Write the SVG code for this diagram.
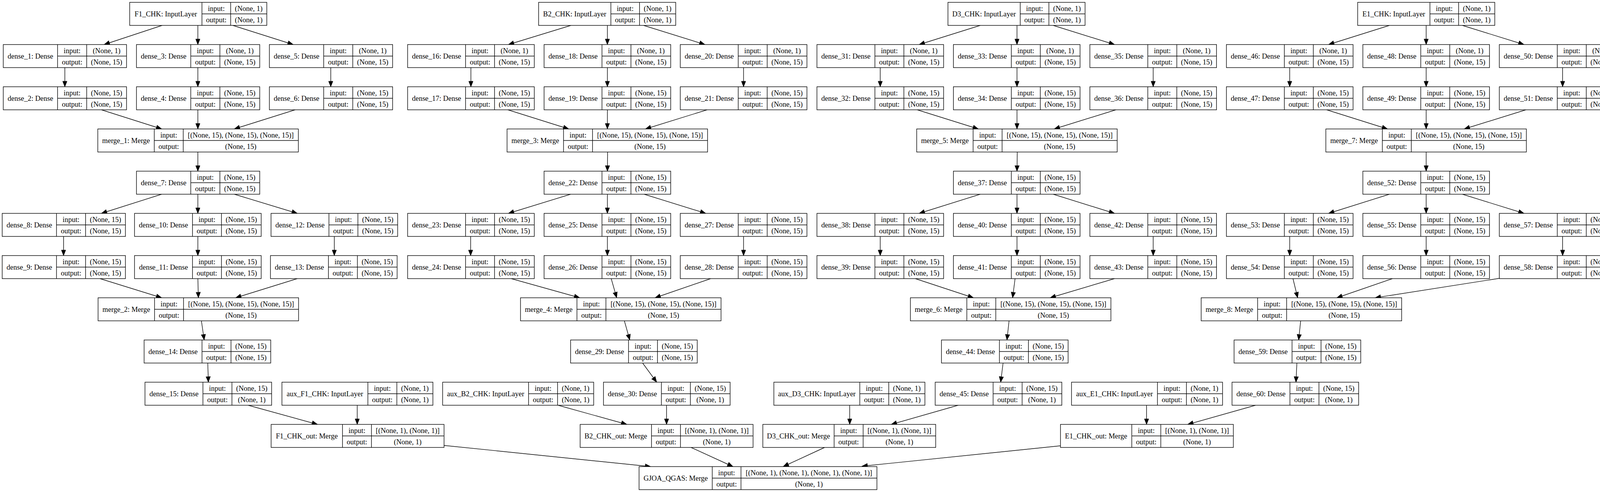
<svg xmlns="http://www.w3.org/2000/svg" xmlns:xlink="http://www.w3.org/1999/xlink" width="4168" height="1259" viewBox="0 0 4168 1259">
<style>
.n text{font-family:"Liberation Serif","Times New Roman",Times,serif;font-size:18.5px;text-anchor:middle;fill:#000}
#edges path{fill:none;stroke:#000;stroke-width:1.4;marker-end:url(#ah)}
</style>
<defs>
<marker id="ah" markerUnits="userSpaceOnUse" markerWidth="14" markerHeight="11" refX="14" refY="5.5" orient="auto" overflow="visible"><path d="M0,0L14,5.5L0,11z" fill="#000" stroke="#000" stroke-width="1"/></marker>
<g id="fIn" fill="#fff" stroke="#000" stroke-width="1.4"><rect width="351" height="59"/><path fill="none" d="M185,0V59M258.5,0V59M185,29.5H351"/></g>
<g id="fD1" fill="#fff" stroke="#000" stroke-width="1.4"><rect width="315.5" height="59"/><path fill="none" d="M139,0V59M213.5,0V59M139,29.5H315.5"/></g>
<g id="fD2" fill="#fff" stroke="#000" stroke-width="1.4"><rect width="324.2" height="59"/><path fill="none" d="M148.3,0V59M222.5,0V59M148.3,29.5H324.2"/></g>
<g id="fM" fill="#fff" stroke="#000" stroke-width="1.4"><rect width="513.3" height="59"/><path fill="none" d="M144.5,0V59M218.7,0V59M144.5,29.5H513.3"/></g>
<g id="fAux" fill="#fff" stroke="#000" stroke-width="1.4"><rect width="386.6" height="59"/><path fill="none" d="M220,0V59M294.2,0V59M220,29.5H386.6"/></g>
<g id="fO" fill="#fff" stroke="#000" stroke-width="1.4"><rect width="442.6" height="59"/><path fill="none" d="M182.6,0V59M256.8,0V59M182.6,29.5H442.6"/></g>
<g id="fG" fill="#fff" stroke="#000" stroke-width="1.4"><rect width="608.9" height="59"/><path fill="none" d="M187.4,0V59M260.9,0V59M187.4,29.5H608.9"/></g>
</defs>
<rect width="4168" height="1259" fill="#fff"/>

<g id="edges">
<path d="M415,65L266.6,114"/><path d="M506.5,65L506.5,114"/><path d="M596,65L750.6,114"/>
<path d="M166,173L166,222"/><path d="M506.5,173L506.5,222"/><path d="M846.7,173L846.7,222"/>
<path d="M259.6,281L414,330"/><path d="M506.5,281L506.5,330"/><path d="M755.5,281L599.8,330"/>
<path d="M506.5,389L506.5,438"/>
<path d="M413.9,497L259.6,546"/><path d="M506.5,497L506.5,546"/><path d="M599.8,497L761.1,546"/>
<path d="M162.7,605L162.7,654"/><path d="M506.5,605L506.5,654"/><path d="M855.8,605L855.8,654"/>
<path d="M256,713L413.9,762"/><path d="M506.5,713L507.9,762"/><path d="M761,713L603.3,762"/>
<path d="M515.6,821L522.7,870"/><path d="M531.9,929L533.4,978"/>
<path d="M635.2,1037L812.7,1086"/><path d="M914.5,1037L914.5,1086"/>
<path d="M1135.7,1139.7L1665.8,1194"/>

<path d="M1461.6,65L1301.6,114"/><path d="M1554.9,65L1554.9,114"/><path d="M1647.5,65L1804.6,114"/>
<path d="M1205.5,173L1205.5,222"/><path d="M1554.9,173L1554.9,222"/><path d="M1903.5,173L1903.5,222"/>
<path d="M1300.2,281L1456,330"/><path d="M1554.9,281L1554.9,330"/><path d="M1810.2,281L1652.4,330"/>
<path d="M1555.5,389L1555,438"/>
<path d="M1460.9,497L1301.6,546"/><path d="M1554.9,497L1554.9,546"/><path d="M1648.9,497L1806.7,546"/>
<path d="M1204.8,605L1204.8,654"/><path d="M1554.9,605L1554.9,654"/><path d="M1903.5,605L1903.5,654"/>
<path d="M1308.7,713L1484,762"/><path d="M1564.7,713L1578.7,762"/><path d="M1819.4,713L1677,762"/>
<path d="M1598.4,821L1612.2,870"/><path d="M1645.1,929L1681.1,978"/>
<path d="M1428.6,1037L1604.6,1086"/><path d="M1706.4,1037L1706.4,1086"/>
<path d="M1769.1,1145L1876.3,1194"/>

<path d="M2509.5,65L2353.1,114"/><path d="M2603.5,65L2603.5,114"/><path d="M2696.1,65L2853.2,114"/>
<path d="M2253.4,173L2253.4,222"/><path d="M2603.5,173L2603.5,222"/><path d="M2952.2,173L2952.2,222"/>
<path d="M2348.1,281L2504.6,330"/><path d="M2603.5,281L2603.5,330"/><path d="M2856.7,281L2698.9,330"/>
<path d="M2604.2,389L2603.5,438"/>
<path d="M2509.5,497L2353.1,546"/><path d="M2603.5,497L2603.5,546"/><path d="M2696.1,497L2853.2,546"/>
<path d="M2253.4,605L2253.4,654"/><path d="M2603.5,605L2603.5,654"/><path d="M2952.2,605L2952.2,654"/>
<path d="M2343.2,713L2492,762"/><path d="M2598.6,713L2592.3,762"/><path d="M2853.2,713L2688.4,762"/>
<path d="M2583.2,821L2577.8,870"/><path d="M2567.9,929L2561.7,978"/>
<path d="M2175.3,1037L2175.3,1086"/><path d="M2453,1037L2281.6,1086"/>
<path d="M2111,1145L2005,1194"/>

<path d="M3557,65L3401.2,114"/><path d="M3651,65L3651,114"/><path d="M3743.6,65L3901.4,114"/>
<path d="M3301.6,173L3301.6,222"/><path d="M3651,173L3651,222"/><path d="M4000.3,173L4000.3,222"/>
<path d="M3396.3,281L3552,330"/><path d="M3651,281L3651,330"/><path d="M3906.3,281L3748.5,330"/>
<path d="M3651,389L3651,438"/>
<path d="M3557,497L3401.2,546"/><path d="M3651,497L3651,546"/><path d="M3743.6,497L3901.4,546"/>
<path d="M3301.6,605L3301.6,654"/><path d="M3651,605L3651,654"/><path d="M4000.3,605L4000.3,654"/>
<path d="M3310,713L3322,762"/><path d="M3564.7,713L3422.3,762"/><path d="M3838.3,712.3L3520.5,762"/>
<path d="M3329.7,821L3324.6,870"/><path d="M3320,929L3317.7,978"/>
<path d="M2935.2,1037L2935.2,1086"/><path d="M3214.4,1037L3040.7,1086"/>
<path d="M2714.8,1140.7L2206.6,1193"/>
</g>

<g id="F1_CHK" class="n" transform="translate(332,6)"><use xlink:href="#fIn"/><text x="92.5" y="36">F1_CHK: InputLayer</text><text x="221.75" y="21.5">input:</text><text x="221.75" y="51">output:</text><text x="304.75" y="21.5">(None, 1)</text><text x="304.75" y="51">(None, 1)</text></g>
<g id="dense_1" class="n" transform="translate(8.4,114)"><use xlink:href="#fD1"/><text x="69.5" y="36">dense_1: Dense</text><text x="176.25" y="21.5">input:</text><text x="176.25" y="51">output:</text><text x="264.5" y="21.5">(None, 1)</text><text x="264.5" y="51">(None, 15)</text></g>
<g id="dense_3" class="n" transform="translate(349.4,114)"><use xlink:href="#fD1"/><text x="69.5" y="36">dense_3: Dense</text><text x="176.25" y="21.5">input:</text><text x="176.25" y="51">output:</text><text x="264.5" y="21.5">(None, 1)</text><text x="264.5" y="51">(None, 15)</text></g>
<g id="dense_5" class="n" transform="translate(689.6,114)"><use xlink:href="#fD1"/><text x="69.5" y="36">dense_5: Dense</text><text x="176.25" y="21.5">input:</text><text x="176.25" y="51">output:</text><text x="264.5" y="21.5">(None, 1)</text><text x="264.5" y="51">(None, 15)</text></g>
<g id="dense_2" class="n" transform="translate(8.4,222)"><use xlink:href="#fD1"/><text x="69.5" y="36">dense_2: Dense</text><text x="176.25" y="21.5">input:</text><text x="176.25" y="51">output:</text><text x="264.5" y="21.5">(None, 15)</text><text x="264.5" y="51">(None, 15)</text></g>
<g id="dense_4" class="n" transform="translate(349.4,222)"><use xlink:href="#fD1"/><text x="69.5" y="36">dense_4: Dense</text><text x="176.25" y="21.5">input:</text><text x="176.25" y="51">output:</text><text x="264.5" y="21.5">(None, 15)</text><text x="264.5" y="51">(None, 15)</text></g>
<g id="dense_6" class="n" transform="translate(689.6,222)"><use xlink:href="#fD1"/><text x="69.5" y="36">dense_6: Dense</text><text x="176.25" y="21.5">input:</text><text x="176.25" y="51">output:</text><text x="264.5" y="21.5">(None, 15)</text><text x="264.5" y="51">(None, 15)</text></g>
<g id="merge_1" class="n" transform="translate(250.4,330)"><use xlink:href="#fM"/><text x="72.25" y="36">merge_1: Merge</text><text x="181.6" y="21.5">input:</text><text x="181.6" y="51">output:</text><text x="366" y="21.5">[(None, 15), (None, 15), (None, 15)]</text><text x="366" y="51">(None, 15)</text></g>
<g id="dense_7" class="n" transform="translate(349.4,438)"><use xlink:href="#fD1"/><text x="69.5" y="36">dense_7: Dense</text><text x="176.25" y="21.5">input:</text><text x="176.25" y="51">output:</text><text x="264.5" y="21.5">(None, 15)</text><text x="264.5" y="51">(None, 15)</text></g>
<g id="dense_8" class="n" transform="translate(5.6,546)"><use xlink:href="#fD1"/><text x="69.5" y="36">dense_8: Dense</text><text x="176.25" y="21.5">input:</text><text x="176.25" y="51">output:</text><text x="264.5" y="21.5">(None, 15)</text><text x="264.5" y="51">(None, 15)</text></g>
<g id="dense_10" class="n" transform="translate(344.4,546)"><use xlink:href="#fD2"/><text x="74.15" y="36">dense_10: Dense</text><text x="185.4" y="21.5">input:</text><text x="185.4" y="51">output:</text><text x="273.35" y="21.5">(None, 15)</text><text x="273.35" y="51">(None, 15)</text></g>
<g id="dense_12" class="n" transform="translate(693.8,546)"><use xlink:href="#fD2"/><text x="74.15" y="36">dense_12: Dense</text><text x="185.4" y="21.5">input:</text><text x="185.4" y="51">output:</text><text x="273.35" y="21.5">(None, 15)</text><text x="273.35" y="51">(None, 15)</text></g>
<g id="dense_9" class="n" transform="translate(5.6,654)"><use xlink:href="#fD1"/><text x="69.5" y="36">dense_9: Dense</text><text x="176.25" y="21.5">input:</text><text x="176.25" y="51">output:</text><text x="264.5" y="21.5">(None, 15)</text><text x="264.5" y="51">(None, 15)</text></g>
<g id="dense_11" class="n" transform="translate(344.4,654)"><use xlink:href="#fD2"/><text x="74.15" y="36">dense_11: Dense</text><text x="185.4" y="21.5">input:</text><text x="185.4" y="51">output:</text><text x="273.35" y="21.5">(None, 15)</text><text x="273.35" y="51">(None, 15)</text></g>
<g id="dense_13" class="n" transform="translate(692.4,654)"><use xlink:href="#fD2"/><text x="74.15" y="36">dense_13: Dense</text><text x="185.4" y="21.5">input:</text><text x="185.4" y="51">output:</text><text x="273.35" y="21.5">(None, 15)</text><text x="273.35" y="51">(None, 15)</text></g>
<g id="merge_2" class="n" transform="translate(251.1,762)"><use xlink:href="#fM"/><text x="72.25" y="36">merge_2: Merge</text><text x="181.6" y="21.5">input:</text><text x="181.6" y="51">output:</text><text x="366" y="21.5">[(None, 15), (None, 15), (None, 15)]</text><text x="366" y="51">(None, 15)</text></g>
<g id="dense_14" class="n" transform="translate(368.9,870)"><use xlink:href="#fD2"/><text x="74.15" y="36">dense_14: Dense</text><text x="185.4" y="21.5">input:</text><text x="185.4" y="51">output:</text><text x="273.35" y="21.5">(None, 15)</text><text x="273.35" y="51">(None, 15)</text></g>
<g id="dense_15" class="n" transform="translate(371.2,978)"><use xlink:href="#fD2"/><text x="74.15" y="36">dense_15: Dense</text><text x="185.4" y="21.5">input:</text><text x="185.4" y="51">output:</text><text x="273.35" y="21.5">(None, 15)</text><text x="273.35" y="51">(None, 1)</text></g>
<g id="aux_F1_CHK" class="n" transform="translate(721.7,978)"><use xlink:href="#fAux"/><text x="110" y="36">aux_F1_CHK: InputLayer</text><text x="257.1" y="21.5">input:</text><text x="257.1" y="51">output:</text><text x="340.4" y="21.5">(None, 1)</text><text x="340.4" y="51">(None, 1)</text></g>
<g id="F1_CHK_out" class="n" transform="translate(694.1,1086)"><use xlink:href="#fO"/><text x="91.3" y="36">F1_CHK_out: Merge</text><text x="219.7" y="21.5">input:</text><text x="219.7" y="51">output:</text><text x="349.7" y="21.5">[(None, 1), (None, 1)]</text><text x="349.7" y="51">(None, 1)</text></g>

<g id="B2_CHK" class="n" transform="translate(1378.8,6)"><use xlink:href="#fIn"/><text x="92.5" y="36">B2_CHK: InputLayer</text><text x="221.75" y="21.5">input:</text><text x="221.75" y="51">output:</text><text x="304.75" y="21.5">(None, 1)</text><text x="304.75" y="51">(None, 1)</text></g>
<g id="dense_16" class="n" transform="translate(1043.5,114)"><use xlink:href="#fD2"/><text x="74.15" y="36">dense_16: Dense</text><text x="185.4" y="21.5">input:</text><text x="185.4" y="51">output:</text><text x="273.35" y="21.5">(None, 1)</text><text x="273.35" y="51">(None, 15)</text></g>
<g id="dense_18" class="n" transform="translate(1392.8,114)"><use xlink:href="#fD2"/><text x="74.15" y="36">dense_18: Dense</text><text x="185.4" y="21.5">input:</text><text x="185.4" y="51">output:</text><text x="273.35" y="21.5">(None, 1)</text><text x="273.35" y="51">(None, 15)</text></g>
<g id="dense_20" class="n" transform="translate(1741.5,114)"><use xlink:href="#fD2"/><text x="74.15" y="36">dense_20: Dense</text><text x="185.4" y="21.5">input:</text><text x="185.4" y="51">output:</text><text x="273.35" y="21.5">(None, 1)</text><text x="273.35" y="51">(None, 15)</text></g>
<g id="dense_17" class="n" transform="translate(1043.5,222)"><use xlink:href="#fD2"/><text x="74.15" y="36">dense_17: Dense</text><text x="185.4" y="21.5">input:</text><text x="185.4" y="51">output:</text><text x="273.35" y="21.5">(None, 15)</text><text x="273.35" y="51">(None, 15)</text></g>
<g id="dense_19" class="n" transform="translate(1392.8,222)"><use xlink:href="#fD2"/><text x="74.15" y="36">dense_19: Dense</text><text x="185.4" y="21.5">input:</text><text x="185.4" y="51">output:</text><text x="273.35" y="21.5">(None, 15)</text><text x="273.35" y="51">(None, 15)</text></g>
<g id="dense_21" class="n" transform="translate(1741.5,222)"><use xlink:href="#fD2"/><text x="74.15" y="36">dense_21: Dense</text><text x="185.4" y="21.5">input:</text><text x="185.4" y="51">output:</text><text x="273.35" y="21.5">(None, 15)</text><text x="273.35" y="51">(None, 15)</text></g>
<g id="merge_3" class="n" transform="translate(1298.1,330)"><use xlink:href="#fM"/><text x="72.25" y="36">merge_3: Merge</text><text x="181.6" y="21.5">input:</text><text x="181.6" y="51">output:</text><text x="366" y="21.5">[(None, 15), (None, 15), (None, 15)]</text><text x="366" y="51">(None, 15)</text></g>
<g id="dense_22" class="n" transform="translate(1392.8,438)"><use xlink:href="#fD2"/><text x="74.15" y="36">dense_22: Dense</text><text x="185.4" y="21.5">input:</text><text x="185.4" y="51">output:</text><text x="273.35" y="21.5">(None, 15)</text><text x="273.35" y="51">(None, 15)</text></g>
<g id="dense_23" class="n" transform="translate(1043.5,546)"><use xlink:href="#fD2"/><text x="74.15" y="36">dense_23: Dense</text><text x="185.4" y="21.5">input:</text><text x="185.4" y="51">output:</text><text x="273.35" y="21.5">(None, 15)</text><text x="273.35" y="51">(None, 15)</text></g>
<g id="dense_25" class="n" transform="translate(1392.8,546)"><use xlink:href="#fD2"/><text x="74.15" y="36">dense_25: Dense</text><text x="185.4" y="21.5">input:</text><text x="185.4" y="51">output:</text><text x="273.35" y="21.5">(None, 15)</text><text x="273.35" y="51">(None, 15)</text></g>
<g id="dense_27" class="n" transform="translate(1741.5,546)"><use xlink:href="#fD2"/><text x="74.15" y="36">dense_27: Dense</text><text x="185.4" y="21.5">input:</text><text x="185.4" y="51">output:</text><text x="273.35" y="21.5">(None, 15)</text><text x="273.35" y="51">(None, 15)</text></g>
<g id="dense_24" class="n" transform="translate(1043.5,654)"><use xlink:href="#fD2"/><text x="74.15" y="36">dense_24: Dense</text><text x="185.4" y="21.5">input:</text><text x="185.4" y="51">output:</text><text x="273.35" y="21.5">(None, 15)</text><text x="273.35" y="51">(None, 15)</text></g>
<g id="dense_26" class="n" transform="translate(1392.8,654)"><use xlink:href="#fD2"/><text x="74.15" y="36">dense_26: Dense</text><text x="185.4" y="21.5">input:</text><text x="185.4" y="51">output:</text><text x="273.35" y="21.5">(None, 15)</text><text x="273.35" y="51">(None, 15)</text></g>
<g id="dense_28" class="n" transform="translate(1741.5,654)"><use xlink:href="#fD2"/><text x="74.15" y="36">dense_28: Dense</text><text x="185.4" y="21.5">input:</text><text x="185.4" y="51">output:</text><text x="273.35" y="21.5">(None, 15)</text><text x="273.35" y="51">(None, 15)</text></g>
<g id="merge_4" class="n" transform="translate(1332.5,762)"><use xlink:href="#fM"/><text x="72.25" y="36">merge_4: Merge</text><text x="181.6" y="21.5">input:</text><text x="181.6" y="51">output:</text><text x="366" y="21.5">[(None, 15), (None, 15), (None, 15)]</text><text x="366" y="51">(None, 15)</text></g>
<g id="dense_29" class="n" transform="translate(1460.7,870)"><use xlink:href="#fD2"/><text x="74.15" y="36">dense_29: Dense</text><text x="185.4" y="21.5">input:</text><text x="185.4" y="51">output:</text><text x="273.35" y="21.5">(None, 15)</text><text x="273.35" y="51">(None, 15)</text></g>
<g id="dense_30" class="n" transform="translate(1544.9,978)"><use xlink:href="#fD2"/><text x="74.15" y="36">dense_30: Dense</text><text x="185.4" y="21.5">input:</text><text x="185.4" y="51">output:</text><text x="273.35" y="21.5">(None, 15)</text><text x="273.35" y="51">(None, 1)</text></g>
<g id="aux_B2_CHK" class="n" transform="translate(1133.2,978)"><use xlink:href="#fAux"/><text x="110" y="36">aux_B2_CHK: InputLayer</text><text x="257.1" y="21.5">input:</text><text x="257.1" y="51">output:</text><text x="340.4" y="21.5">(None, 1)</text><text x="340.4" y="51">(None, 1)</text></g>
<g id="B2_CHK_out" class="n" transform="translate(1485.2,1086)"><use xlink:href="#fO"/><text x="91.3" y="36">B2_CHK_out: Merge</text><text x="219.7" y="21.5">input:</text><text x="219.7" y="51">output:</text><text x="349.7" y="21.5">[(None, 1), (None, 1)]</text><text x="349.7" y="51">(None, 1)</text></g>

<g id="D3_CHK" class="n" transform="translate(2426.7,6)"><use xlink:href="#fIn"/><text x="92.5" y="36">D3_CHK: InputLayer</text><text x="221.75" y="21.5">input:</text><text x="221.75" y="51">output:</text><text x="304.75" y="21.5">(None, 1)</text><text x="304.75" y="51">(None, 1)</text></g>
<g id="dense_31" class="n" transform="translate(2091.4,114)"><use xlink:href="#fD2"/><text x="74.15" y="36">dense_31: Dense</text><text x="185.4" y="21.5">input:</text><text x="185.4" y="51">output:</text><text x="273.35" y="21.5">(None, 1)</text><text x="273.35" y="51">(None, 15)</text></g>
<g id="dense_33" class="n" transform="translate(2440.7,114)"><use xlink:href="#fD2"/><text x="74.15" y="36">dense_33: Dense</text><text x="185.4" y="21.5">input:</text><text x="185.4" y="51">output:</text><text x="273.35" y="21.5">(None, 1)</text><text x="273.35" y="51">(None, 15)</text></g>
<g id="dense_35" class="n" transform="translate(2790.1,114)"><use xlink:href="#fD2"/><text x="74.15" y="36">dense_35: Dense</text><text x="185.4" y="21.5">input:</text><text x="185.4" y="51">output:</text><text x="273.35" y="21.5">(None, 1)</text><text x="273.35" y="51">(None, 15)</text></g>
<g id="dense_32" class="n" transform="translate(2091.4,222)"><use xlink:href="#fD2"/><text x="74.15" y="36">dense_32: Dense</text><text x="185.4" y="21.5">input:</text><text x="185.4" y="51">output:</text><text x="273.35" y="21.5">(None, 15)</text><text x="273.35" y="51">(None, 15)</text></g>
<g id="dense_34" class="n" transform="translate(2440.7,222)"><use xlink:href="#fD2"/><text x="74.15" y="36">dense_34: Dense</text><text x="185.4" y="21.5">input:</text><text x="185.4" y="51">output:</text><text x="273.35" y="21.5">(None, 15)</text><text x="273.35" y="51">(None, 15)</text></g>
<g id="dense_36" class="n" transform="translate(2790.1,222)"><use xlink:href="#fD2"/><text x="74.15" y="36">dense_36: Dense</text><text x="185.4" y="21.5">input:</text><text x="185.4" y="51">output:</text><text x="273.35" y="21.5">(None, 15)</text><text x="273.35" y="51">(None, 15)</text></g>
<g id="merge_5" class="n" transform="translate(2346.7,330)"><use xlink:href="#fM"/><text x="72.25" y="36">merge_5: Merge</text><text x="181.6" y="21.5">input:</text><text x="181.6" y="51">output:</text><text x="366" y="21.5">[(None, 15), (None, 15), (None, 15)]</text><text x="366" y="51">(None, 15)</text></g>
<g id="dense_37" class="n" transform="translate(2440.7,438)"><use xlink:href="#fD2"/><text x="74.15" y="36">dense_37: Dense</text><text x="185.4" y="21.5">input:</text><text x="185.4" y="51">output:</text><text x="273.35" y="21.5">(None, 15)</text><text x="273.35" y="51">(None, 15)</text></g>
<g id="dense_38" class="n" transform="translate(2091.4,546)"><use xlink:href="#fD2"/><text x="74.15" y="36">dense_38: Dense</text><text x="185.4" y="21.5">input:</text><text x="185.4" y="51">output:</text><text x="273.35" y="21.5">(None, 15)</text><text x="273.35" y="51">(None, 15)</text></g>
<g id="dense_40" class="n" transform="translate(2440.7,546)"><use xlink:href="#fD2"/><text x="74.15" y="36">dense_40: Dense</text><text x="185.4" y="21.5">input:</text><text x="185.4" y="51">output:</text><text x="273.35" y="21.5">(None, 15)</text><text x="273.35" y="51">(None, 15)</text></g>
<g id="dense_42" class="n" transform="translate(2790.1,546)"><use xlink:href="#fD2"/><text x="74.15" y="36">dense_42: Dense</text><text x="185.4" y="21.5">input:</text><text x="185.4" y="51">output:</text><text x="273.35" y="21.5">(None, 15)</text><text x="273.35" y="51">(None, 15)</text></g>
<g id="dense_39" class="n" transform="translate(2091.4,654)"><use xlink:href="#fD2"/><text x="74.15" y="36">dense_39: Dense</text><text x="185.4" y="21.5">input:</text><text x="185.4" y="51">output:</text><text x="273.35" y="21.5">(None, 15)</text><text x="273.35" y="51">(None, 15)</text></g>
<g id="dense_41" class="n" transform="translate(2440.7,654)"><use xlink:href="#fD2"/><text x="74.15" y="36">dense_41: Dense</text><text x="185.4" y="21.5">input:</text><text x="185.4" y="51">output:</text><text x="273.35" y="21.5">(None, 15)</text><text x="273.35" y="51">(None, 15)</text></g>
<g id="dense_43" class="n" transform="translate(2790.1,654)"><use xlink:href="#fD2"/><text x="74.15" y="36">dense_43: Dense</text><text x="185.4" y="21.5">input:</text><text x="185.4" y="51">output:</text><text x="273.35" y="21.5">(None, 15)</text><text x="273.35" y="51">(None, 15)</text></g>
<g id="merge_6" class="n" transform="translate(2330.6,762)"><use xlink:href="#fM"/><text x="72.25" y="36">merge_6: Merge</text><text x="181.6" y="21.5">input:</text><text x="181.6" y="51">output:</text><text x="366" y="21.5">[(None, 15), (None, 15), (None, 15)]</text><text x="366" y="51">(None, 15)</text></g>
<g id="dense_44" class="n" transform="translate(2410.2,870)"><use xlink:href="#fD2"/><text x="74.15" y="36">dense_44: Dense</text><text x="185.4" y="21.5">input:</text><text x="185.4" y="51">output:</text><text x="273.35" y="21.5">(None, 15)</text><text x="273.35" y="51">(None, 15)</text></g>
<g id="dense_45" class="n" transform="translate(2394.1,978)"><use xlink:href="#fD2"/><text x="74.15" y="36">dense_45: Dense</text><text x="185.4" y="21.5">input:</text><text x="185.4" y="51">output:</text><text x="273.35" y="21.5">(None, 15)</text><text x="273.35" y="51">(None, 1)</text></g>
<g id="aux_D3_CHK" class="n" transform="translate(1981.1,978)"><use xlink:href="#fAux"/><text x="110" y="36">aux_D3_CHK: InputLayer</text><text x="257.1" y="21.5">input:</text><text x="257.1" y="51">output:</text><text x="340.4" y="21.5">(None, 1)</text><text x="340.4" y="51">(None, 1)</text></g>
<g id="D3_CHK_out" class="n" transform="translate(1952.8,1086)"><use xlink:href="#fO"/><text x="91.3" y="36">D3_CHK_out: Merge</text><text x="219.7" y="21.5">input:</text><text x="219.7" y="51">output:</text><text x="349.7" y="21.5">[(None, 1), (None, 1)]</text><text x="349.7" y="51">(None, 1)</text></g>

<g id="E1_CHK" class="n" transform="translate(3475.6,6)"><use xlink:href="#fIn"/><text x="92.5" y="36">E1_CHK: InputLayer</text><text x="221.75" y="21.5">input:</text><text x="221.75" y="51">output:</text><text x="304.75" y="21.5">(None, 1)</text><text x="304.75" y="51">(None, 1)</text></g>
<g id="dense_46" class="n" transform="translate(3139.6,114)"><use xlink:href="#fD2"/><text x="74.15" y="36">dense_46: Dense</text><text x="185.4" y="21.5">input:</text><text x="185.4" y="51">output:</text><text x="273.35" y="21.5">(None, 1)</text><text x="273.35" y="51">(None, 15)</text></g>
<g id="dense_48" class="n" transform="translate(3488.9,114)"><use xlink:href="#fD2"/><text x="74.15" y="36">dense_48: Dense</text><text x="185.4" y="21.5">input:</text><text x="185.4" y="51">output:</text><text x="273.35" y="21.5">(None, 1)</text><text x="273.35" y="51">(None, 15)</text></g>
<g id="dense_50" class="n" transform="translate(3838.3,114)"><use xlink:href="#fD2"/><text x="74.15" y="36">dense_50: Dense</text><text x="185.4" y="21.5">input:</text><text x="185.4" y="51">output:</text><text x="273.35" y="21.5">(None, 1)</text><text x="273.35" y="51">(None, 15)</text></g>
<g id="dense_47" class="n" transform="translate(3139.6,222)"><use xlink:href="#fD2"/><text x="74.15" y="36">dense_47: Dense</text><text x="185.4" y="21.5">input:</text><text x="185.4" y="51">output:</text><text x="273.35" y="21.5">(None, 15)</text><text x="273.35" y="51">(None, 15)</text></g>
<g id="dense_49" class="n" transform="translate(3488.9,222)"><use xlink:href="#fD2"/><text x="74.15" y="36">dense_49: Dense</text><text x="185.4" y="21.5">input:</text><text x="185.4" y="51">output:</text><text x="273.35" y="21.5">(None, 15)</text><text x="273.35" y="51">(None, 15)</text></g>
<g id="dense_51" class="n" transform="translate(3838.3,222)"><use xlink:href="#fD2"/><text x="74.15" y="36">dense_51: Dense</text><text x="185.4" y="21.5">input:</text><text x="185.4" y="51">output:</text><text x="273.35" y="21.5">(None, 15)</text><text x="273.35" y="51">(None, 15)</text></g>
<g id="merge_7" class="n" transform="translate(3394.2,330)"><use xlink:href="#fM"/><text x="72.25" y="36">merge_7: Merge</text><text x="181.6" y="21.5">input:</text><text x="181.6" y="51">output:</text><text x="366" y="21.5">[(None, 15), (None, 15), (None, 15)]</text><text x="366" y="51">(None, 15)</text></g>
<g id="dense_52" class="n" transform="translate(3488.9,438)"><use xlink:href="#fD2"/><text x="74.15" y="36">dense_52: Dense</text><text x="185.4" y="21.5">input:</text><text x="185.4" y="51">output:</text><text x="273.35" y="21.5">(None, 15)</text><text x="273.35" y="51">(None, 15)</text></g>
<g id="dense_53" class="n" transform="translate(3139.6,546)"><use xlink:href="#fD2"/><text x="74.15" y="36">dense_53: Dense</text><text x="185.4" y="21.5">input:</text><text x="185.4" y="51">output:</text><text x="273.35" y="21.5">(None, 15)</text><text x="273.35" y="51">(None, 15)</text></g>
<g id="dense_55" class="n" transform="translate(3488.9,546)"><use xlink:href="#fD2"/><text x="74.15" y="36">dense_55: Dense</text><text x="185.4" y="21.5">input:</text><text x="185.4" y="51">output:</text><text x="273.35" y="21.5">(None, 15)</text><text x="273.35" y="51">(None, 15)</text></g>
<g id="dense_57" class="n" transform="translate(3838.3,546)"><use xlink:href="#fD2"/><text x="74.15" y="36">dense_57: Dense</text><text x="185.4" y="21.5">input:</text><text x="185.4" y="51">output:</text><text x="273.35" y="21.5">(None, 15)</text><text x="273.35" y="51">(None, 15)</text></g>
<g id="dense_54" class="n" transform="translate(3139.6,654)"><use xlink:href="#fD2"/><text x="74.15" y="36">dense_54: Dense</text><text x="185.4" y="21.5">input:</text><text x="185.4" y="51">output:</text><text x="273.35" y="21.5">(None, 15)</text><text x="273.35" y="51">(None, 15)</text></g>
<g id="dense_56" class="n" transform="translate(3488.9,654)"><use xlink:href="#fD2"/><text x="74.15" y="36">dense_56: Dense</text><text x="185.4" y="21.5">input:</text><text x="185.4" y="51">output:</text><text x="273.35" y="21.5">(None, 15)</text><text x="273.35" y="51">(None, 15)</text></g>
<g id="dense_58" class="n" transform="translate(3838.3,654)"><use xlink:href="#fD2"/><text x="74.15" y="36">dense_58: Dense</text><text x="185.4" y="21.5">input:</text><text x="185.4" y="51">output:</text><text x="273.35" y="21.5">(None, 15)</text><text x="273.35" y="51">(None, 15)</text></g>
<g id="merge_8" class="n" transform="translate(3075,762)"><use xlink:href="#fM"/><text x="72.25" y="36">merge_8: Merge</text><text x="181.6" y="21.5">input:</text><text x="181.6" y="51">output:</text><text x="366" y="21.5">[(None, 15), (None, 15), (None, 15)]</text><text x="366" y="51">(None, 15)</text></g>
<g id="dense_59" class="n" transform="translate(3159.3,870)"><use xlink:href="#fD2"/><text x="74.15" y="36">dense_59: Dense</text><text x="185.4" y="21.5">input:</text><text x="185.4" y="51">output:</text><text x="273.35" y="21.5">(None, 15)</text><text x="273.35" y="51">(None, 15)</text></g>
<g id="dense_60" class="n" transform="translate(3154,978)"><use xlink:href="#fD2"/><text x="74.15" y="36">dense_60: Dense</text><text x="185.4" y="21.5">input:</text><text x="185.4" y="51">output:</text><text x="273.35" y="21.5">(None, 15)</text><text x="273.35" y="51">(None, 1)</text></g>
<g id="aux_E1_CHK" class="n" transform="translate(2743.1,978)"><use xlink:href="#fAux"/><text x="110" y="36">aux_E1_CHK: InputLayer</text><text x="257.1" y="21.5">input:</text><text x="257.1" y="51">output:</text><text x="340.4" y="21.5">(None, 1)</text><text x="340.4" y="51">(None, 1)</text></g>
<g id="E1_CHK_out" class="n" transform="translate(2714.8,1086)"><use xlink:href="#fO"/><text x="91.3" y="36">E1_CHK_out: Merge</text><text x="219.7" y="21.5">input:</text><text x="219.7" y="51">output:</text><text x="349.7" y="21.5">[(None, 1), (None, 1)]</text><text x="349.7" y="51">(None, 1)</text></g>

<g id="GJOA_QGAS" class="n" transform="translate(1636,1194)"><use xlink:href="#fG"/><text x="93.7" y="36">GJOA_QGAS: Merge</text><text x="224.15" y="21.5">input:</text><text x="224.15" y="51">output:</text><text x="434.9" y="21.5">[(None, 1), (None, 1), (None, 1), (None, 1)]</text><text x="434.9" y="51">(None, 1)</text></g>
</svg>
